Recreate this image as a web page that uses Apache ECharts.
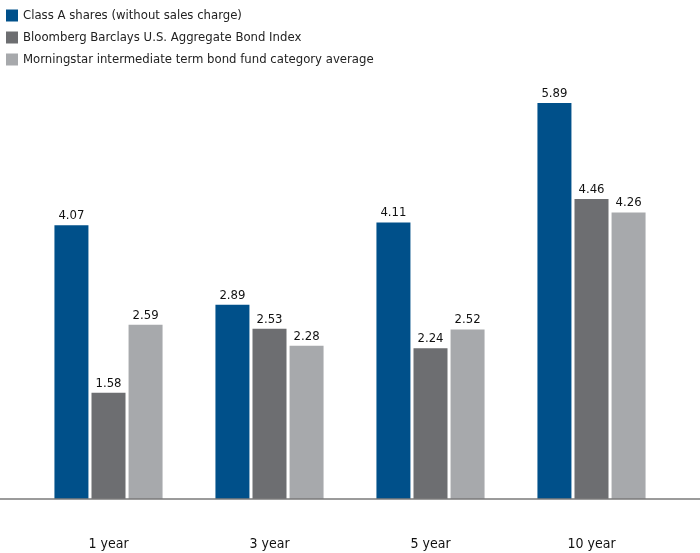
<!DOCTYPE html>
<html><head><meta charset="utf-8">
<script src="https://cdn.jsdelivr.net/npm/echarts@6/dist/echarts.min.js"></script>
<style>html,body{margin:0;padding:0;background:#fff}#c{width:700px;height:553px}</style>
</head><body><div id="c"></div>
<script>
const categories = ['1 year', '3 year', '5 year', '10 year'];
const seriesNames = ['Class A shares (without sales charge)', 'Bloomberg Barclays U.S. Aggregate Bond Index', 'Morningstar intermediate term bond fund category average'];
const classA = [4.07, 2.89, 4.11, 5.89];
const bloomberg = [1.58, 2.53, 2.24, 4.46];
const morningstar = [2.59, 2.28, 2.52, 4.26];
const colors = ['#00508a', '#6d6e71', '#a7a9ac'];
const font = '"DejaVu Sans Condensed", "Liberation Sans Narrow", sans-serif';

const chart = echarts.init(document.getElementById('c'));
const mk = (name, data, color) => ({
  name, type: 'bar', data, barWidth: 34, barGap: '9%',
  itemStyle: { color },
  label: { show: true, position: 'top', distance: 3, color: '#111', fontSize: 13, fontFamily: font, formatter: p => p.value.toFixed(2) }
});
chart.setOption({
  animation: false,
  color: colors,
  legend: {
    orient: 'vertical', left: 1, top: 4, itemWidth: 12, itemHeight: 12, itemGap: 9,
    icon: 'rect',
    textStyle: { fontFamily: font, fontSize: 13, color: '#222' },
    data: seriesNames
  },
  grid: { left: 28, right: 28, top: 95.5, bottom: 54 },
  xAxis: {
    type: 'category', data: categories,
    axisLine: { show: false }, axisTick: { show: false },
    axisLabel: { margin: 38, fontFamily: font, fontSize: 14, color: '#111' }
  },
  yAxis: { type: 'value', min: 0, max: 6, show: false, splitLine: { show: false } },
  graphic: [{ type: 'line', shape: { x1: 0, y1: 499, x2: 700, y2: 499 }, style: { stroke: '#7a7a7a', lineWidth: 1.5 }, z: 10 }],
  series: [mk(seriesNames[0], classA, colors[0]), mk(seriesNames[1], bloomberg, colors[1]), mk(seriesNames[2], morningstar, colors[2])]
});
</script></body></html>
